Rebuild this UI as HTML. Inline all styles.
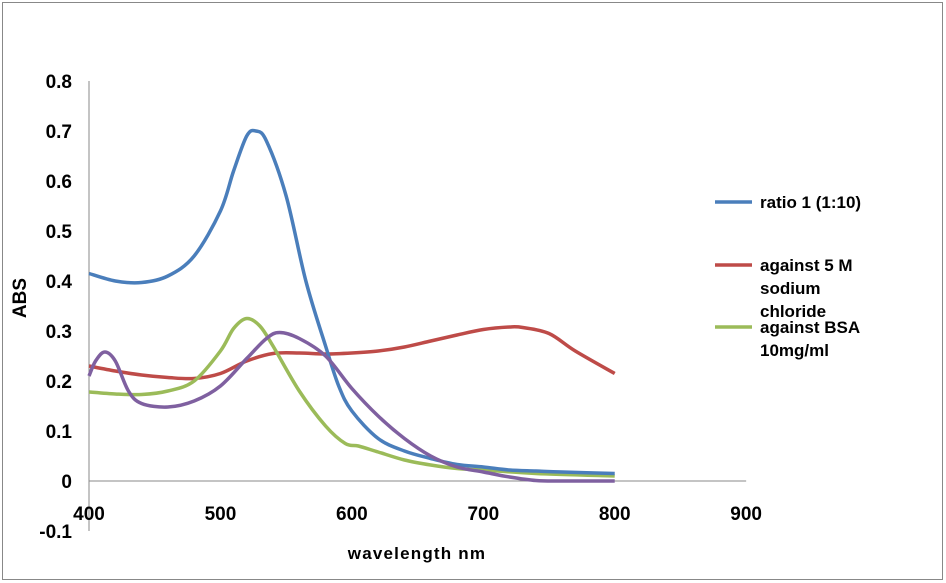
<!DOCTYPE html>
<html><head><meta charset="utf-8"><style>
body{margin:0;background:#fff;}
svg{display:block;font-family:"Liberation Sans",Arial,sans-serif;font-weight:bold;}
</style></head><body>
<svg id="c" width="946" height="583">
<rect x="2.5" y="2.5" width="940" height="577" fill="#fff" stroke="#888" stroke-width="1"/>
<g id="axes"></g><g id="series"></g><g id="legend"></g>
</svg>
<script>
const xTicks=[400,500,600,700,800,900];
const yTicks=[-0.1,0,0.1,0.2,0.3,0.4,0.5,0.6,0.7,0.8];
const seriesNames=["ratio 1 (1:10)","against 5 M sodium chloride","against BSA 10mg/ml","purple"];
const blueX=[400,420,440,460,480,500,510,520,527,535,550,565,580,590,600,620,640,660,680,700,720,740,760,800];
const blueY=[0.415,0.40,0.397,0.41,0.45,0.54,0.62,0.69,0.70,0.68,0.57,0.40,0.27,0.19,0.14,0.085,0.06,0.045,0.033,0.028,0.022,0.02,0.018,0.015];
const redX=[400,420,440,460,480,500,520,540,560,580,600,620,640,660,680,700,720,730,750,770,800];
const redY=[0.23,0.22,0.212,0.207,0.205,0.215,0.24,0.255,0.256,0.254,0.256,0.26,0.268,0.28,0.292,0.303,0.308,0.307,0.295,0.26,0.215];
const greenX=[400,420,440,460,480,500,510,520,530,540,560,580,595,605,620,640,660,680,700,740,800];
const greenY=[0.178,0.174,0.173,0.18,0.2,0.26,0.305,0.325,0.31,0.27,0.18,0.11,0.075,0.07,0.058,0.042,0.032,0.025,0.022,0.015,0.01];
const purpleX=[400,405,412,420,430,440,460,480,500,520,535,545,560,580,600,620,640,660,680,700,720,740,760,800];
const purpleY=[0.21,0.24,0.258,0.24,0.18,0.155,0.148,0.16,0.19,0.245,0.285,0.297,0.285,0.25,0.185,0.13,0.085,0.05,0.028,0.018,0.008,0.001,0,0];
const X=v=>89+(v-400)*1.3143;
const Y=v=>481-v*500;
const NS="http://www.w3.org/2000/svg";
function mk(t,a,p){const e=document.createElementNS(NS,t);for(const k in a)e.setAttribute(k,a[k]);p.appendChild(e);return e;}
const ax=document.getElementById('axes');
let yl=mk('line',{x1:89,y1:Y(0.8),x2:89,y2:Y(-0.1),stroke:'#888'},ax);


let xl=mk('line',{x1:89,y1:Y(0),x2:X(900),y2:Y(0),stroke:'#888'},ax);


yTicks.forEach(v=>{const t=mk('text',{x:72,y:Y(v)+7,'text-anchor':'end','font-size':19},ax);t.textContent=(v===0?'0':v.toFixed(1));

});
xTicks.forEach(v=>{const t=mk('text',{x:X(v),y:520,'text-anchor':'middle','font-size':19},ax);t.textContent=v;

});
let yt=mk('text',{x:0,y:0,'text-anchor':'middle','font-size':19,transform:'translate(26,298) rotate(-90)'},ax);yt.textContent='ABS';


let xt=mk('text',{x:417,y:559,'text-anchor':'middle','font-size':17,'letter-spacing':1.2},ax);xt.textContent='wavelength nm';


function path(xs,ys){const p=xs.map((x,i)=>[X(x),Y(ys[i])]);let d='M'+p[0][0]+','+p[0][1];
for(let i=0;i<p.length-1;i++){const p0=p[Math.max(i-1,0)],p1=p[i],p2=p[i+1],p3=p[Math.min(i+2,p.length-1)];
d+=' C'+(p1[0]+(p2[0]-p0[0])/6)+','+(p1[1]+(p2[1]-p0[1])/6)+' '+(p2[0]-(p3[0]-p1[0])/6)+','+(p2[1]-(p3[1]-p1[1])/6)+' '+p2[0]+','+p2[1];}return d;}
const sg=document.getElementById('series');
const defs=[[redX,redY,'#be4b48','red-series'],[greenX,greenY,'#9bbb59','green-series'],[blueX,blueY,'#4a7ebb','blue-series'],[purpleX,purpleY,'#7f60a0','purple-series']];
defs.forEach(d=>{const e=mk('path',{d:path(d[0],d[1]),fill:'none',stroke:d[2],'stroke-width':3.5,'stroke-linejoin':'round'},sg);

});
const lg=document.getElementById('legend');
const items=[['#4a7ebb',202,['ratio 1 (1:10)']],['#be4b48',265,['against 5 M','sodium','chloride']],['#9bbb59',327,['against BSA','10mg/ml']]];
items.forEach(it=>{const g=mk('g',{},lg);


mk('line',{x1:715,y1:it[1],x2:752,y2:it[1],stroke:it[0],'stroke-width':3.5},g);
it[2].forEach((s,i)=>{const t=mk('text',{x:760,y:it[1]+6+i*23,'font-size':17},g);t.textContent=s;});});
</script>
</body></html>
